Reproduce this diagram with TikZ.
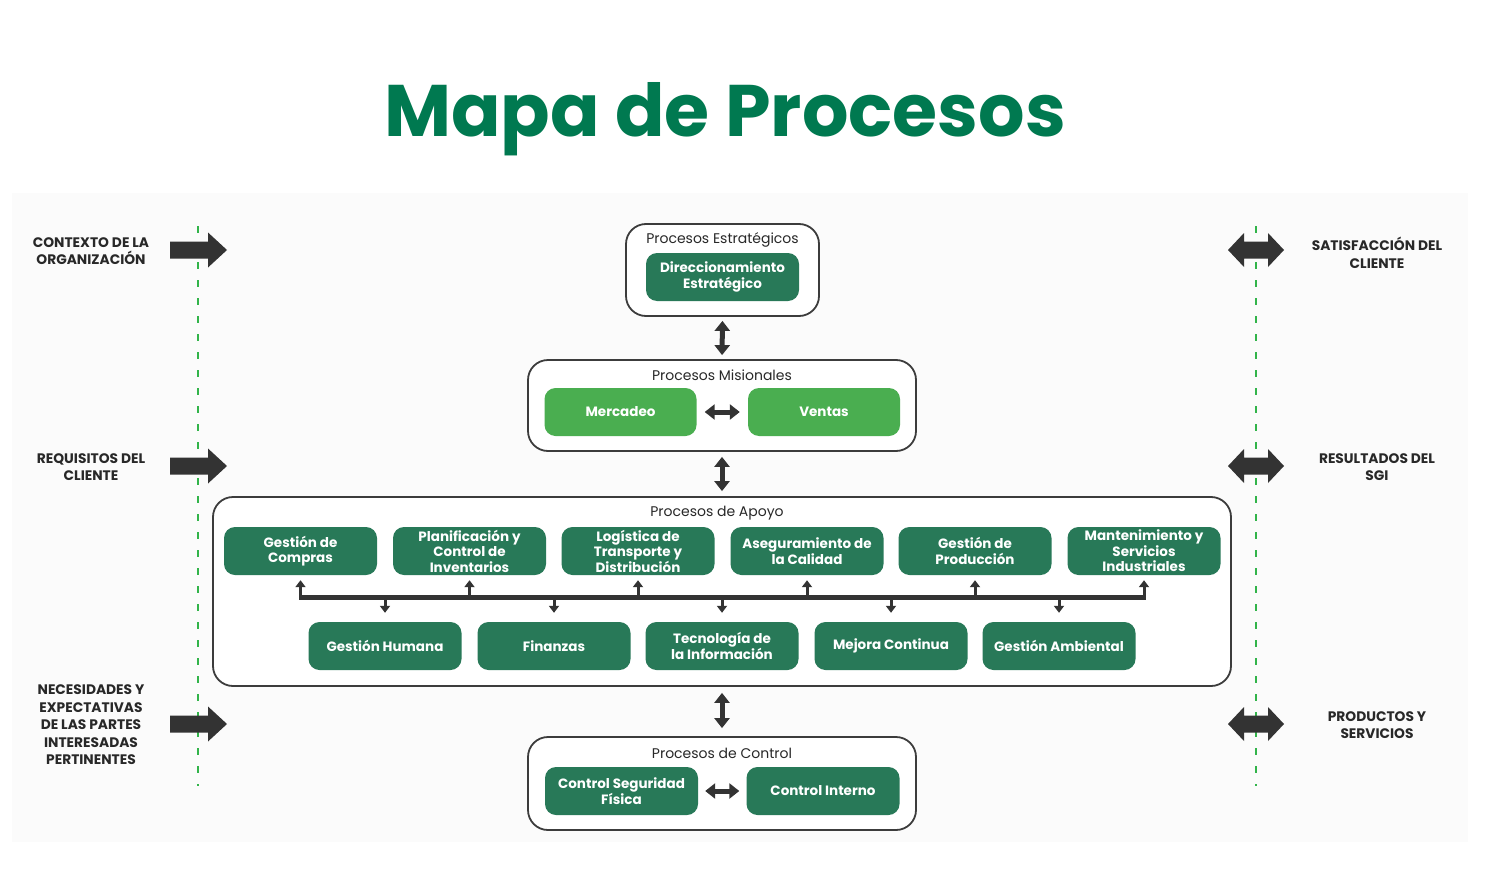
\documentclass[tikz,border=0pt]{standalone}
\usepackage{fontspec}
\setmainfont{Poppins}
\usetikzlibrary{arrows.meta}
\definecolor{dgreen}{RGB}{40,121,88}
\definecolor{lgreen}{RGB}{74,174,80}
\definecolor{titlegreen}{RGB}{0,121,80}
\definecolor{dashgreen}{RGB}{50,180,74}
\definecolor{arrowgray}{RGB}{51,51,51}
\definecolor{boxline}{RGB}{60,60,60}
\definecolor{textgray}{RGB}{40,40,40}
\definecolor{panel}{RGB}{251,251,251}
\tikzset{
  outerbox/.style={draw=boxline, line width=1.8pt, rounded corners=20pt, fill=white, inner sep=0pt},
  secttitle/.style={font=\fontsize{14}{16}\selectfont, text=textgray, inner sep=0pt},
  gbox/.style={fill=dgreen, rounded corners=11pt, text=white, align=center,
    font=\bfseries\fontsize{13.5}{15.5}\selectfont, minimum width=153pt, minimum height=48pt, inner sep=0pt},
  lbox/.style={gbox, fill=lgreen},
  sidelabel/.style={font=\bfseries\fontsize{13.8}{17.5}\selectfont, text=textgray, align=center, inner sep=0pt},
  dblarrow/.style={arrowgray, line width=5pt, {Triangle[width=15pt,length=10pt]}-{Triangle[width=15pt,length=10pt]}},
  smallup/.style={arrowgray, line width=3pt, -{Triangle[width=10pt,length=7pt]}},
  busline/.style={arrowgray, line width=5pt},
  gdash/.style={dashgreen, line width=2.7pt, dash pattern=on 7pt off 11pt},
  rblk/.pic={\fill[arrowgray] (-28,-8.5) -- (10,-8.5) -- (10,-17.5) -- (29,0) -- (10,17.5) -- (10,8.5) -- (-28,8.5) -- cycle;},
  dblk/.pic={\fill[arrowgray] (-28,0) -- (-12,-17) -- (-12,-8.5) -- (12,-8.5) -- (12,-17) -- (28,0) -- (12,17) -- (12,8.5) -- (-12,8.5) -- (-12,17) -- cycle;}
}
\begin{document}
\begin{tikzpicture}[x=1pt,y=-1pt]
\useasboundingbox (0,0) rectangle (1489,875);
\fill[white] (0,0) rectangle (1489,875);
\fill[panel] (12,193) rectangle (1468,842);

% title
\node[font=\bfseries\fontsize{73}{78}\selectfont, text=titlegreen, inner sep=0pt] (title) at (725,119) {Mapa de Procesos};

% dashed lines
\draw[gdash] (198,226) -- (198,786);
\draw[gdash] (1256,226) -- (1256,786);

% side arrows
\pic at (198,250) {rblk};
\pic at (198,466) {rblk};
\pic at (198,724) {rblk};
\pic at (1256,250) {dblk};
\pic at (1256,466) {dblk};
\pic at (1256,724) {dblk};

% side labels
\node[sidelabel] (l1) at (91,251) {CONTEXTO DE LA\\ORGANIZACIÓN};
\node[sidelabel] (l2) at (91,467) {REQUISITOS DEL\\CLIENTE};
\node[sidelabel] (l3) at (91,725) {NECESIDADES Y\\EXPECTATIVAS\\DE LAS PARTES\\INTERESADAS\\PERTINENTES};
\node[sidelabel] (r1) at (1377,253) {SATISFACCIÓN DEL\\CLIENTE};
\node[sidelabel] (r2) at (1377,467) {RESULTADOS DEL\\SGI};
\node[sidelabel] (r3) at (1377,725) {PRODUCTOS Y\\SERVICIOS};

% outer boxes
\node[outerbox, minimum width=193pt, minimum height=92pt] (estr) at (722.5,270) {};
\node[outerbox, minimum width=388pt, minimum height=91pt] (mis) at (722,405.5) {};
\node[outerbox, minimum width=1018pt, minimum height=189pt] (apo) at (722,591.5) {};
\node[outerbox, minimum width=388pt, minimum height=93pt] (ctl) at (722,783.5) {};

\node[secttitle] (estrT) at (722.5,239.5) {Procesos Estratégicos};
\node[secttitle] (misT) at (722,375.5) {Procesos Misionales};
\node[secttitle] (apoT) at (717,513.5) {Procesos de Apoyo};
\node[secttitle] (ctlT) at (722,753.5) {Procesos de Control};

% inner boxes
\node[gbox] (dir) at (722.5,277) {Direccionamiento\\Estratégico};
\node[lbox, minimum width=152pt] (merc) at (620.5,412) {Mercadeo};
\node[lbox, minimum width=152pt] (vent) at (824,412) {Ventas};

\node[gbox] (t1) at (300.5,551) {Gestión de\\Compras};
\node[gbox] (t2) at (469.5,551) {Planificación y\\Control de\\Inventarios};
\node[gbox] (t3) at (638,551) {Logística de\\Transporte y\\Distribución};
\node[gbox] (t4) at (807,551) {Aseguramiento de\\la Calidad};
\node[gbox] (t5) at (975,551) {Gestión de\\Producción};
\node[gbox] (t6) at (1144,551) {Mantenimiento y\\Servicios\\Industriales};

\node[gbox] (b1) at (385,646) {Gestión Humana};
\node[gbox] (b2) at (554,646) {Finanzas};
\node[gbox] (b3) at (722,646) {Tecnología de\\la Información};
\node[gbox] (b4) at (891,646) {Mejora Continua};
\node[gbox] (b5) at (1059,646) {Gestión Ambiental};

\node[gbox] (csf) at (621.5,791) {Control Seguridad\\Física};
\node[gbox] (ci) at (823,791) {Control Interno};

% connectors between sections
\draw[dblarrow, shorten <=4pt, shorten >=4pt] (estr.south) -- (mis.north);
\draw[dblarrow, shorten <=5pt, shorten >=5pt] (mis.south) -- (apo.north);
\draw[dblarrow, shorten <=6pt, shorten >=8pt] (apo.south) -- (ctl.north);
\draw[dblarrow, shorten <=8pt, shorten >=8pt] (merc.east) -- (vent.west);
\draw[dblarrow, shorten <=7pt, shorten >=7pt] (csf.east) -- (ci.west);

% bus
\coordinate (busy) at (0,597);
\draw[busline, shorten <=-1.5pt, shorten >=-1.5pt] (t1.south |- busy) -- (t6.south |- busy);
\foreach \n in {t1,t2,t3,t4,t5,t6}
  \draw[smallup, shorten >=5pt] (\n.south |- busy) -- (\n.south);
\foreach \n in {b1,b2,b3,b4,b5}
  \draw[smallup, shorten >=9pt] (\n.north |- busy) -- (\n.north);
\end{tikzpicture}
\end{document}
